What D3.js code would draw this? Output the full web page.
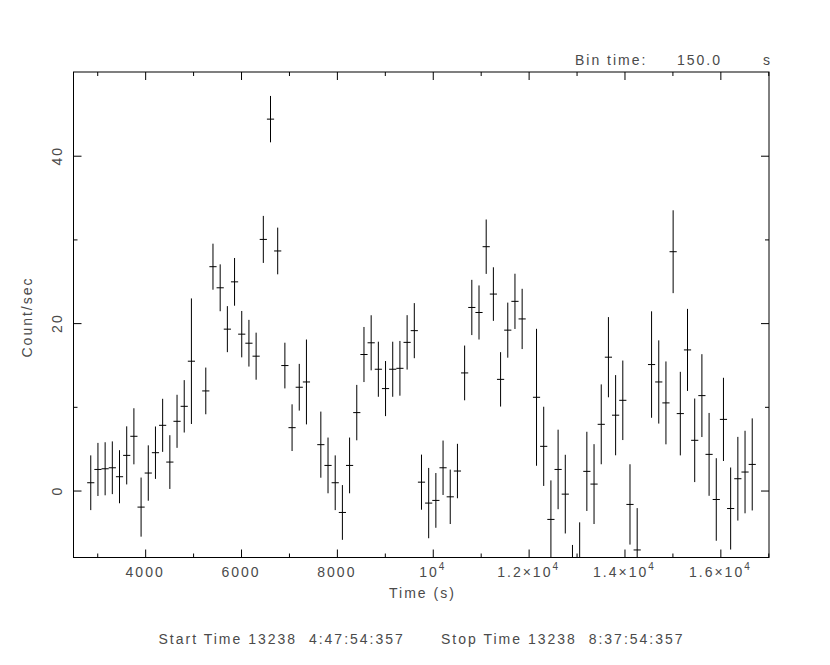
<!DOCTYPE html>
<html>
<head>
<meta charset="utf-8">
<script src="https://cdn.jsdelivr.net/npm/d3@7"></script>
<style>
  html, body { margin: 0; padding: 0; background: #fff; }
  svg { display: block; }
  text { font-family: "Liberation Sans", Arial, sans-serif; font-size: 14px; fill: #4a4a4a; letter-spacing: 2px; white-space: pre; }
</style>
</head>
<body>
<svg id="chart" width="830" height="665"></svg>
<script>
// ---- data (bin time 150 s) ----
const times = [2865, 3015, 3165, 3315, 3465, 3615, 3765, 3915, 4065, 4215, 4365, 4515, 4665, 4815, 4965,
  5265, 5415, 5565, 5715, 5865, 6015, 6165, 6315, 6465, 6615, 6765, 6915, 7065, 7215, 7365,
  7665, 7815, 7965, 8115, 8265, 8415, 8565, 8715, 8865, 9015, 9165, 9315, 9465, 9615, 9765,
  9915, 10065, 10215, 10365, 10515, 10665, 10815, 10965, 11115, 11265, 11415, 11565, 11715, 11865,
  12165, 12315, 12465, 12615, 12765, 12915, 13065, 13215, 13365, 13515, 13665, 13815, 13965, 14115, 14265,
  14565, 14715, 14865, 15015, 15165, 15315, 15465, 15615, 15765, 15915, 16065, 16215, 16365, 16515, 16665];
const rates = [0.93, 2.52, 2.6, 2.72, 1.65, 4.2, 6.48, -1.98, 2.09, 4.52, 7.79, 3.4, 8.27, 10.06, 15.45,
  11.9, 26.74, 24.22, 19.28, 24.93, 18.68, 17.6, 16.05, 30.0, 44.37, 28.62, 14.93, 7.51, 12.34, 12.97,
  5.48, 3.0, 0.93, -2.62, 3.0, 9.31, 16.25, 17.65, 14.49, 12.18, 14.49, 14.6, 17.7, 19.1, 1.0,
  -1.5, -1.18, 2.72, -0.75, 2.33, 14.05, 21.87, 21.27, 29.13, 23.47, 13.28, 19.16, 22.6, 20.5,
  11.14, 5.28, -3.45, 2.52, -0.43, -11.2, -8.5, 2.29, 0.77, 7.91, 15.93, 9.0, 10.78, -1.66, -7.1,
  15.05, 12.97, 10.47, 28.53, 9.19, 16.8, 6.0, 11.34, 4.32, -1.07, 8.5, -2.15, 1.41, 2.21, 3.12];
const errors = [3.27, 3.17, 3.17, 3.15, 3.17, 3.47, 3.35, 3.53, 3.31, 3.13, 3.17, 3.21, 3.17, 3.13, 7.5,
  2.79, 2.75, 2.8, 2.75, 2.85, 2.77, 2.79, 2.81, 2.81, 2.77, 2.79, 2.73, 2.79, 2.79, 5.07,
  3.95, 3.33, 3.27, 3.27, 3.33, 3.31, 3.29, 3.29, 3.29, 3.29, 3.29, 3.27, 3.25, 3.29, 3.29,
  4.2, 3.27, 3.25, 3.25, 3.25, 3.27, 3.3, 3.23, 3.25, 3.2, 3.25, 3.29, 3.3, 3.6,
  8.18, 4.73, 4.66, 4.75, 4.7, 4.7, 4.7, 4.73, 4.77, 4.77, 4.79, 4.79, 4.75, 4.8, 5.0,
  6.36, 4.97, 4.95, 4.95, 4.99, 4.9, 4.99, 4.95, 4.95, 4.93, 4.97, 4.9, 5.0, 4.93, 5.5];
const binTime = 150;
const xDomain = [2505, 17015];
const yDomain = [-8, 50];
const xMajorTicks = [4000, 6000, 8000, 10000, 12000, 14000, 16000];
const xMinorTicks = [3000, 5000, 7000, 9000, 11000, 13000, 15000, 17000];
const xTickLabels = [["4000", ""], ["6000", ""], ["8000", ""], ["10", "4"], ["1.2×10", "4"], ["1.4×10", "4"], ["1.6×10", "4"]];
const yMajorTicks = [0, 20, 40];
const yMinorTicks = [10, 30];
const yTickLabels = ["0", "20", "40"];

// ---- layout ----
const svg = d3.select("#chart");
const L = 73.5, R = 769, T = 72, B = 557.5;
const x = d3.scaleLinear().domain(xDomain).range([L, R]);
const y = d3.scaleLinear().domain(yDomain).range([B, T]);

svg.append("rect").attr("width", 830).attr("height", 665).attr("fill", "#fff");

svg.append("defs").append("clipPath").attr("id", "plotclip")
  .append("rect").attr("x", L).attr("y", T).attr("width", R - L).attr("height", B - T);

// frame
svg.append("rect").attr("x", L).attr("y", T).attr("width", R - L).attr("height", B - T)
  .attr("fill", "none").attr("stroke", "#000").attr("stroke-width", 1);

// ticks via d3 axes (inward), labels drawn separately
function tickAxis(axisFn, scale, vals, size, tx, ty) {
  const g = svg.append("g").attr("transform", `translate(${tx},${ty})`)
    .call(axisFn(scale).tickValues(vals).tickSize(size).tickFormat(""));
  g.select(".domain").remove();
  g.selectAll(".tick line").attr("stroke", "#000");
  return g;
}
tickAxis(d3.axisBottom, x, xMajorTicks, -8, 0, B);
tickAxis(d3.axisBottom, x, xMinorTicks, -4, 0, B);
tickAxis(d3.axisTop, x, xMajorTicks, -8, 0, T);
tickAxis(d3.axisTop, x, xMinorTicks, -4, 0, T);
tickAxis(d3.axisLeft, y, yMajorTicks, -8, L, 0);
tickAxis(d3.axisLeft, y, yMinorTicks, -4, L, 0);
tickAxis(d3.axisRight, y, yMajorTicks, -8, R, 0);
tickAxis(d3.axisRight, y, yMinorTicks, -4, R, 0);

// x tick labels
xMajorTicks.forEach((v, i) => {
  const t = svg.append("text").attr("x", x(v)).attr("y", 577).attr("text-anchor", "middle");
  t.append("tspan").text(xTickLabels[i][0]);
  if (xTickLabels[i][1]) {
    t.append("tspan").attr("dy", -7).style("font-size", "10px").text(xTickLabels[i][1]);
  }
});

// y tick labels (rotated)
yMajorTicks.forEach((v, i) => {
  svg.append("text").attr("transform", `translate(62,${y(v)}) rotate(-90)`)
    .attr("text-anchor", "middle").text(yTickLabels[i]);
});

// axis titles and annotations
svg.append("text").attr("transform", "translate(32,317) rotate(-90)").attr("text-anchor", "middle").text("Count/sec");
svg.append("text").attr("x", 389).attr("y", 598).text("Time (s)");
svg.append("text").attr("x", 575).attr("y", 65).text("Bin time:");
svg.append("text").attr("x", 677).attr("y", 65).text("150.0");
svg.append("text").attr("x", 763).attr("y", 65).text("s");
svg.append("text").attr("x", 158.5).attr("y", 644).text("Start Time 13238  4:47:54:357");
svg.append("text").attr("x", 441).attr("y", 644).text("Stop Time 13238  8:37:54:357");

// data error bars
const pts = times.map((t, i) => ({ t, v: rates[i], e: errors[i] }));
const gData = svg.append("g").attr("clip-path", "url(#plotclip)")
  .attr("stroke", "#000").attr("stroke-width", 1);
gData.selectAll("line.v").data(pts).join("line").attr("class", "v")
  .attr("x1", d => x(d.t)).attr("x2", d => x(d.t))
  .attr("y1", d => y(d.v - d.e)).attr("y2", d => y(d.v + d.e));
gData.selectAll("line.h").data(pts).join("line").attr("class", "h")
  .attr("x1", d => x(d.t - binTime / 2)).attr("x2", d => x(d.t + binTime / 2))
  .attr("y1", d => y(d.v)).attr("y2", d => y(d.v));
</script>
</body>
</html>
